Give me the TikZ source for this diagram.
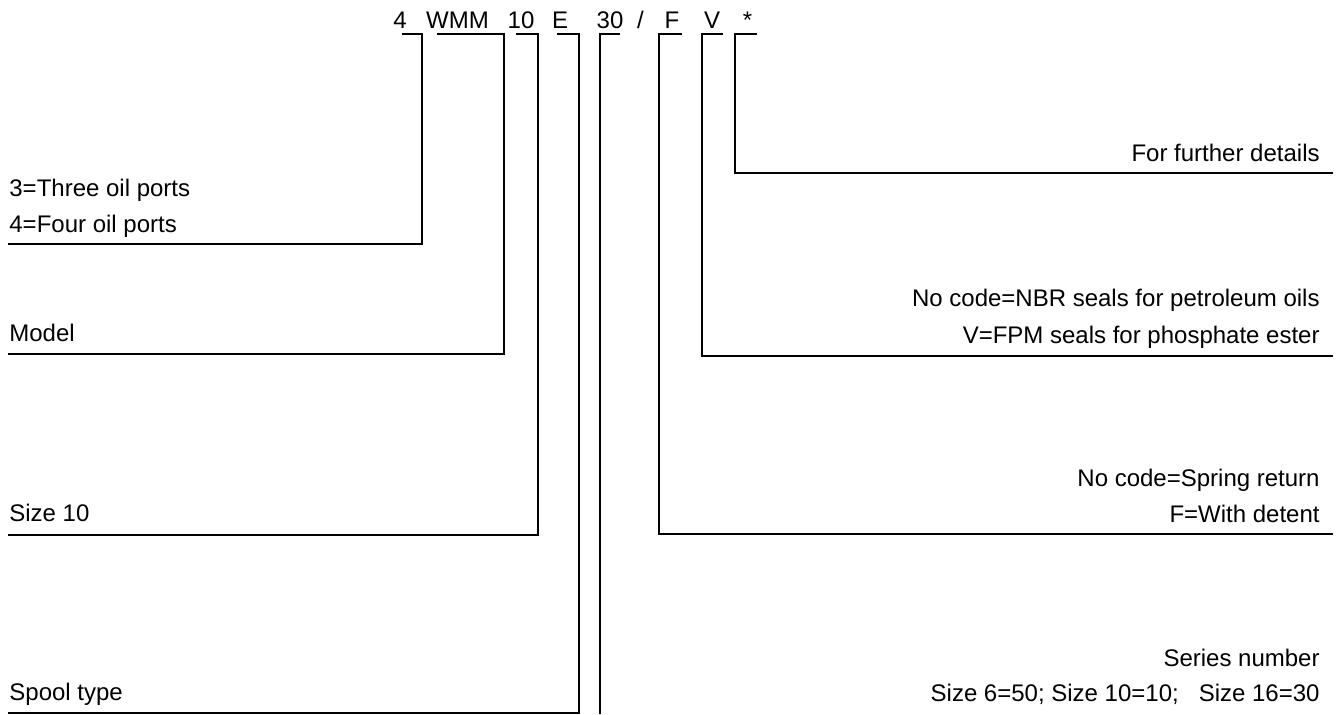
\documentclass[tikz,border=0pt]{standalone}
\usepackage{fontspec}
\setmainfont{Liberation Sans}
\tikzset{
  lbl/.style={inner sep=0pt,font=\fontsize{12}{14}\selectfont},
  code/.style={lbl,anchor=base},
  lead/.style={line width=0.6pt,black}
}
\begin{document}
\begin{tikzpicture}[x=0.5pt,y=-0.5pt]
    \useasboundingbox (0,0) rectangle (1337,714);
    % code row
    \node[code] (c4) at (400,28) {4};
    \node[code] (cWMM) at (457.5,28) {WMM};
    \node[code] (c10) at (521,28) {10};
    \node[code] (cE) at (560,28) {E};
    \node[code] (c30) at (610,28) {30};
    \node[code] (cslash) at (640.5,28) {/};
    \node[code] (cF) at (672,28) {F};
    \node[code] (cV) at (712,28) {V};
    \node[code] (cstar) at (747.5,28) {*};
    % underlines
    \coordinate (u4a) at (402,34);   \coordinate (u4b) at (422,34);
    \coordinate (uWa) at (437,34);   \coordinate (uWb) at (504,34);
    \coordinate (u10a) at (516,34);  \coordinate (u10b) at (538,34);
    \coordinate (uEa) at (557,34);   \coordinate (uEb) at (579,34);
    \coordinate (u30a) at (600,34);  \coordinate (u30b) at (620,34);
    \coordinate (uFa) at (659,34);   \coordinate (uFb) at (682,34);
    \coordinate (uVa) at (702,34);   \coordinate (uVb) at (723,34);
    \coordinate (uSa) at (735,34);   \coordinate (uSb) at (757,34);
    % left side
    \coordinate (l4) at (8,244);
    \coordinate (lW) at (8,354);
    \coordinate (l10) at (8,535);
    \coordinate (lE) at (8,713);
    \node[lbl,anchor=base west] (ports3) at (9,196) {3=Three oil ports};
    \node[lbl,anchor=base west] (ports4) at (9,232) {4=Four oil ports};
    \node[lbl,anchor=base west] (model) at (9,341) {Model};
    \node[lbl,anchor=base west] (size) at (9,521) {Size 10};
    \node[lbl,anchor=base west] (spool) at (9,700) {Spool type};
    \draw[lead] (u4a) -- (u4b) |- (l4);
    \draw[lead] (uWa) -- (uWb) |- (lW);
    \draw[lead] (u10a) -- (u10b) |- (l10);
    \draw[lead] (uEa) -- (uEb) |- (lE);
    % series
    \coordinate (e30) at (600,714);
    \draw[lead] (u30b) -- (u30a) -- (e30);
    % right side
    \coordinate (rF) at (1333,534);
    \coordinate (rV) at (1333,356);
    \coordinate (rS) at (1333,173);
    \draw[lead] (uFb) -- (uFa) |- (rF);
    \draw[lead] (uVb) -- (uVa) |- (rV);
    \draw[lead] (uSb) -- (uSa) |- (rS);
    \node[lbl,anchor=base east] (details) at (1320,161) {For further details};
    \node[lbl,anchor=base east] (nbr) at (1320,306) {No code=NBR seals for petroleum oils};
    \node[lbl,anchor=base east] (fpm) at (1320,343) {V=FPM seals for phosphate ester};
    \node[lbl,anchor=base east] (spring) at (1320,486) {No code=Spring return};
    \node[lbl,anchor=base east] (detent) at (1320,522) {F=With detent};
    \node[lbl,anchor=base east] (series) at (1320,666) {Series number};
    \node[lbl,anchor=base east] (sizes) at (1320,701) {Size 6=50; Size 10=10;\ \ \ Size 16=30};
\end{tikzpicture}
\end{document}
